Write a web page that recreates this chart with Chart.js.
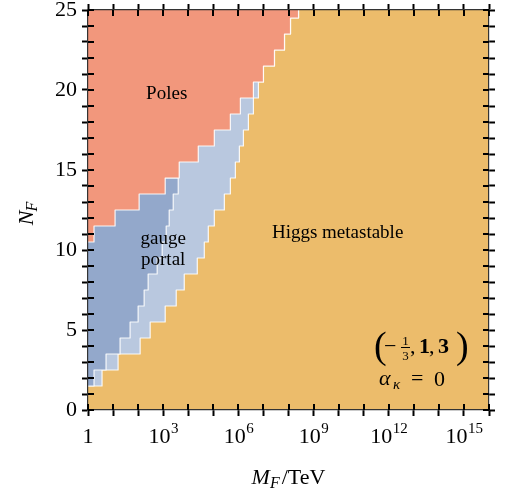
<!DOCTYPE html>
<html>
<head>
<meta charset="utf-8">
<script src="https://cdn.jsdelivr.net/npm/chart.js@4.4.1/dist/chart.umd.min.js"></script>
<style>
html,body{margin:0;padding:0;background:#fff;}
#wrap{width:508px;height:493px;position:relative;}
</style>
</head>
<body>
<div id="wrap"><canvas id="c"></canvas></div>
<script>
// ---- data (x in log10(M_F/TeV), y = N_F) ----
const lightBlueN    = [2,3,4,5,6,7,8,9,10,11,12,13,14,15,16,17,18,19,20,21,22,23,24,25];
const lightBlueEdge = [0.56,1.20,2.08,2.48,3.08,3.52,3.84,4.36,4.64,4.80,5.04,5.44,5.68,5.88,6.04,6.20,6.40,6.60,6.80,7.00,7.44,7.84,8.08,8.40];
const gaugeN        = [2,3,4,5,6,7,8,9,10,11,12,13,14];
const gaugeEdge     = [0.24,0.72,1.28,1.68,2.00,2.24,2.40,2.76,2.96,3.12,3.24,3.40,3.60];
const polesN        = [11,12,13,14,15,16,17,18,19,20,21,22,23,24,25];
const polesEdge     = [0.24,1.08,2.04,3.08,3.64,4.40,5.04,5.68,6.08,6.60,7.00,7.44,7.84,8.08,8.40];
const xTickExps     = [0,3,6,9,12,15];
const yTickLabels   = [0,5,10,15,20,25];

const C_ORANGE = '#ECBC6B';
const C_POLES  = '#F2977C';
const C_DARK   = '#93A8CB';
const C_LIGHT  = '#B9C8DF';
const SERIF = '"Liberation Serif","DejaVu Serif",serif';

function regionPoints(ns, edges, topY) {
  const pts = [{x: -1, y: ns[0] - 0.5}];
  ns.forEach((n, i) => pts.push({x: edges[i], y: n - 0.5}));
  pts.push({x: edges[edges.length - 1], y: topY});
  pts.push({x: -1, y: topY});
  return pts;
}

function ds(label, pts, color) {
  return {
    label, data: pts, fill: 'shape', backgroundColor: color,
    borderColor: 'rgba(255,255,255,0.9)', borderWidth: 1.2,
    borderJoinStyle: 'round', stepped: 'after', pointRadius: 0, tension: 0
  };
}

const bgPlugin = {
  id: 'bg',
  beforeDatasetsDraw(chart) {
    const {ctx, chartArea: a} = chart;
    ctx.save();
    ctx.fillStyle = C_ORANGE;
    ctx.fillRect(a.left, a.top, a.right - a.left, a.bottom - a.top);
    ctx.restore();
  }
};

function txt(ctx, s, x, y, font, align) {
  ctx.font = font;
  ctx.textAlign = align || 'left';
  ctx.fillText(s, x, y);
}

const decoPlugin = {
  id: 'deco',
  afterDraw(chart) {
    const {ctx, chartArea: a} = chart;
    const xs = chart.scales.x, ys = chart.scales.y;
    ctx.save();
    // inner halves of tick marks
    ctx.strokeStyle = '#000';
    ctx.lineWidth = 2;
    ctx.beginPath();
    xs.ticks.forEach(t => {
      const px = Math.round(xs.getPixelForValue(t.value));
      ctx.moveTo(px, a.bottom); ctx.lineTo(px, a.bottom - 6);
      ctx.moveTo(px, a.top); ctx.lineTo(px, a.top + 6);
    });
    ys.ticks.forEach(t => {
      const py = Math.round(ys.getPixelForValue(t.value));
      ctx.moveTo(a.left, py); ctx.lineTo(a.left + 6, py);
      ctx.moveTo(a.right, py); ctx.lineTo(a.right - 6, py);
    });
    ctx.stroke();

    ctx.fillStyle = '#000';
    ctx.textBaseline = 'alphabetic';
    // x tick labels (powers of ten)
    const base = a.bottom + 33;
    xTickExps.forEach(e => {
      const px = xs.getPixelForValue(e);
      if (e === 0) { txt(ctx, '1', px, base, '22px ' + SERIF, 'center'); return; }
      ctx.font = '22px ' + SERIF; const w1 = ctx.measureText('10').width;
      ctx.font = '15px ' + SERIF; const w2 = ctx.measureText(String(e)).width;
      const left = px - (w1 + w2) / 2;
      txt(ctx, '10', left, base, '22px ' + SERIF);
      txt(ctx, String(e), left + w1 + 0.5, base - 10, '15px ' + SERIF);
    });

    // x title M_F/TeV
    {
      ctx.font = 'italic 22px ' + SERIF; const wM = ctx.measureText('M').width;
      ctx.font = 'italic 16px ' + SERIF; const wF = ctx.measureText('F').width;
      ctx.font = '22px ' + SERIF; const wT = ctx.measureText('/TeV').width;
      const tot = wM + wF + 2 + wT;
      const cx = (a.left + a.right) / 2;
      let x0 = cx - tot / 2;
      const by = 484;
      txt(ctx, 'M', x0, by, 'italic 22px ' + SERIF); x0 += wM;
      txt(ctx, 'F', x0, by + 4, 'italic 16px ' + SERIF); x0 += wF + 2;
      txt(ctx, '/TeV', x0, by, '22px ' + SERIF);
    }
    // y title N_F
    {
      ctx.save();
      ctx.translate(33, (a.top + a.bottom) / 2 + 3);
      ctx.rotate(-Math.PI / 2);
      ctx.font = 'italic 22px ' + SERIF; const wN = ctx.measureText('N').width;
      ctx.font = 'italic 16px ' + SERIF; const wF = ctx.measureText('F').width;
      let x0 = -(wN + wF) / 2;
      txt(ctx, 'N', x0, 0, 'italic 22px ' + SERIF); x0 += wN - 1;
      txt(ctx, 'F', x0, 4, 'italic 16px ' + SERIF);
      ctx.restore();
    }

    // region labels
    const lab = '19px ' + SERIF;
    txt(ctx, 'Poles', xs.getPixelForValue(3.14), ys.getPixelForValue(19.44), lab, 'center');
    txt(ctx, 'gauge', xs.getPixelForValue(3.0), ys.getPixelForValue(10.375), lab, 'center');
    txt(ctx, 'portal', xs.getPixelForValue(3.0), ys.getPixelForValue(9.06), lab, 'center');
    txt(ctx, 'Higgs metastable', xs.getPixelForValue(9.96), ys.getPixelForValue(10.75), lab, 'center');

    // annotation (-1/3, 1, 3), alpha_kappa = 0
    const R = 22;
    txt(ctx, '(', 374, 358, '38px ' + SERIF);
    txt(ctx, '\u2212', 384, 353, R + 'px ' + SERIF);
    txt(ctx, '1', 405.5, 345, '13px ' + SERIF, 'center');
    txt(ctx, '3', 405.5, 360, '13px ' + SERIF, 'center');
    ctx.fillRect(401, 347, 9, 1);
    txt(ctx, ',', 410, 353, R + 'px ' + SERIF);
    txt(ctx, '1', 419, 353, 'bold ' + R + 'px ' + SERIF);
    txt(ctx, ',', 429, 353, R + 'px ' + SERIF);
    txt(ctx, '3', 438, 353, 'bold ' + R + 'px ' + SERIF);
    txt(ctx, ')', 456, 358, '38px ' + SERIF);
    txt(ctx, '\u03B1', 379, 385, 'italic ' + R + 'px ' + SERIF);
    txt(ctx, '\u03BA', 393, 389, 'italic 15px ' + SERIF);
    txt(ctx, '=', 411, 385, R + 'px ' + SERIF);
    txt(ctx, '0', 434, 386, R + 'px ' + SERIF);
    ctx.restore();
  }
};

const gridOpts = {display: true, drawOnChartArea: false, drawTicks: true, tickLength: 6, tickWidth: 2, tickColor: '#000'};
const borderOpts = {display: true, color: '#333', width: 1.2, z: 1};
const fixV = w => s => { s.width = w; s.paddingTop = 0; s.paddingBottom = 0; s.paddingLeft = 0; s.paddingRight = 0; };
const fixH = h => s => { s.height = h; s.paddingTop = 0; s.paddingBottom = 0; s.paddingLeft = 0; s.paddingRight = 0; };

new Chart(document.getElementById('c'), {
  type: 'line',
  data: {
    datasets: [
      ds('Poles', regionPoints(polesN, polesEdge, 26), C_POLES),
      ds('gauge portal', regionPoints(gaugeN, gaugeEdge, gaugeN[gaugeN.length - 1] + 0.5), C_DARK),
      ds('light', regionPoints(lightBlueN, lightBlueEdge, 26), C_LIGHT)
    ]
  },
  options: {
    responsive: true, maintainAspectRatio: false, animation: false,
    layout: {padding: 0},
    plugins: {legend: {display: false}, tooltip: {enabled: false}},
    scales: {
      x: {type: 'linear', position: 'bottom', min: 0, max: 16,
          ticks: {stepSize: 1, display: false, autoSkip: false},
          grid: gridOpts, border: borderOpts, afterFit: fixH(83)},
      x2: {type: 'linear', position: 'top', min: 0, max: 16,
          ticks: {stepSize: 1, display: false, autoSkip: false},
          grid: gridOpts, border: borderOpts, afterFit: fixH(10)},
      y: {type: 'linear', position: 'left', min: 0, max: 25,
          ticks: {stepSize: 1, autoSkip: false, padding: 5, color: '#000',
                  font: {family: SERIF, size: 22},
                  callback: v => yTickLabels.includes(v) ? String(v) : ''},
          grid: gridOpts, border: borderOpts, afterFit: fixV(88)},
      y2: {type: 'linear', position: 'right', min: 0, max: 25,
          ticks: {stepSize: 1, display: false, autoSkip: false},
          grid: gridOpts, border: borderOpts, afterFit: fixV(19)}
    }
  },
  plugins: [bgPlugin, decoPlugin]
});
</script>
</body>
</html>
